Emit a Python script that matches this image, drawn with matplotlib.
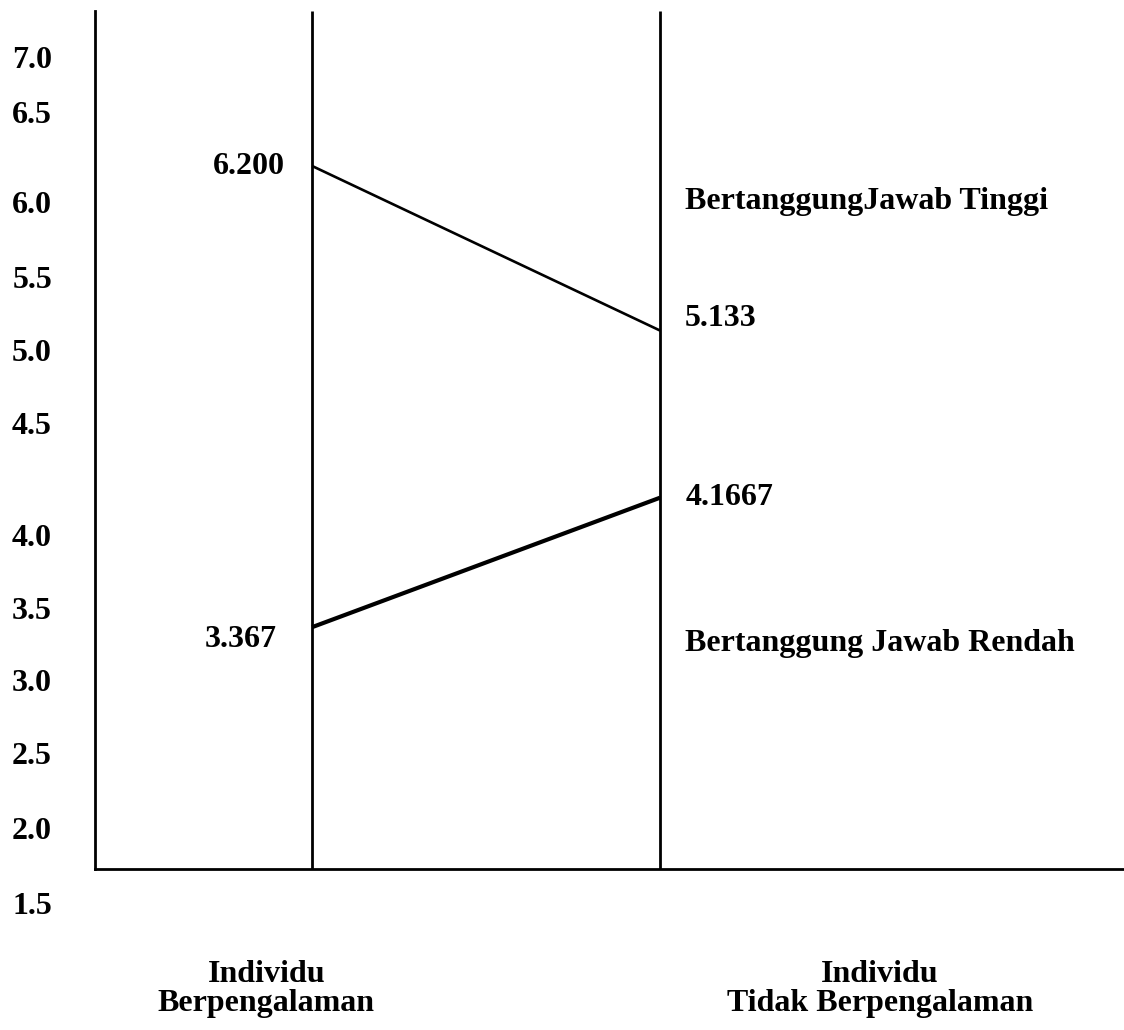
import numpy as np
import matplotlib.pyplot as plt
from matplotlib.transforms import ScaledTranslation

groups = ["Individu\nBerpengalaman", "Individu\nTidak Berpengalaman"]
series_names = ["BertanggungJawab Tinggi", "Bertanggung Jawab Rendah"]
tinggi = [6.200, 5.133]
rendah = [3.367, 4.1667]
tinggi_text = ["6.200", "5.133"]
rendah_text = ["3.367", "4.1667"]
yticks = [1.5, 2.0, 2.5, 3.0, 3.5, 4.0, 4.5, 5.0, 5.5, 6.0, 6.5, 7.0]
ytick_labels = ["1.5", "2.0", "2.5", "3.0", "3.5", "4.0", "4.5", "5.0", "5.5", "6.0", "6.5", "7.0"]

# the value axis was drawn by hand, ticks are not evenly spaced.
# ruler = pixel row (from top of the page) of each tick label
ruler_vals = np.array([0.5] + yticks + [8.0])
ruler_rows = np.array([1053, 903, 828, 753, 680, 608, 535, 423, 350, 277, 202, 112, 57, -53])


def forward(v):
    return np.interp(v, ruler_vals, -ruler_rows)


def inverse(p):
    return np.interp(p, -ruler_rows, ruler_vals)


plt.rcParams['font.family'] = ['Liberation Serif', 'DejaVu Serif']
plt.rcParams['font.weight'] = 'bold'
FS = 23

fig = plt.figure(figsize=(11.24, 10.30), dpi=100)
ax = fig.add_axes([95 / 1124, 0, 1029 / 1124, 1])
ax.set_yscale('function', functions=(forward, inverse))

base = 1.73
top = 7.42
xs = [1, 2]

ax.set_xlim(0.376, 3.333)
ax.set_ylim(inverse(-1030), inverse(0))

ax.vlines(xs, base, top, color='black', lw=2)
ax.plot(xs, tinggi, color='black', lw=1.9, solid_capstyle='butt')
ax.plot(xs, rendah, color='black', lw=3.0, solid_capstyle='butt')

ax.spines['top'].set_visible(False)
ax.spines['right'].set_visible(False)
ax.spines['left'].set_bounds(base, top)
ax.spines['left'].set_linewidth(2)
ax.spines['bottom'].set_position(('data', base))
ax.spines['bottom'].set_linewidth(2)

ax.set_xticks([])
ax.set_yticks(yticks)
ax.set_yticklabels(ytick_labels)
ax.yaxis.set_minor_locator(plt.NullLocator())
ax.tick_params(axis='y', length=0, pad=31, labelsize=FS)


def shifted(dx_px, dy_px):
    return ax.transData + ScaledTranslation(dx_px / 100, dy_px / 100, fig.dpi_scale_trans)


# value labels
ax.text(xs[0], tinggi[0], tinggi_text[0], fontsize=FS, ha='right', va='center', transform=shifted(-27, 0))
ax.text(xs[0], rendah[0], rendah_text[0], fontsize=FS, ha='right', va='center', transform=shifted(-35, -12))
ax.text(xs[1], tinggi[1], tinggi_text[1], fontsize=FS, ha='left', va='center', transform=shifted(25, 12))
ax.text(xs[1], rendah[1], rendah_text[1], fontsize=FS, ha='left', va='center', transform=shifted(25, 0))

# series names
ax.text(xs[1], 6.0, series_names[0], fontsize=FS, ha='left', va='center', transform=shifted(25, 0))
ax.text(xs[1], 3.25, series_names[1], fontsize=FS, ha='left', va='center', transform=shifted(25, 0))

# group names under the base line
trans = ax.get_xaxis_transform()
ax.text(0.868, 0.040, groups[0], fontsize=FS, ha='center', va='center', linespacing=1.0, transform=trans)
ax.text(2.632, 0.040, groups[1], fontsize=FS, ha='center', va='center', linespacing=1.0, transform=trans)

fig.savefig('out.png', dpi=100)
